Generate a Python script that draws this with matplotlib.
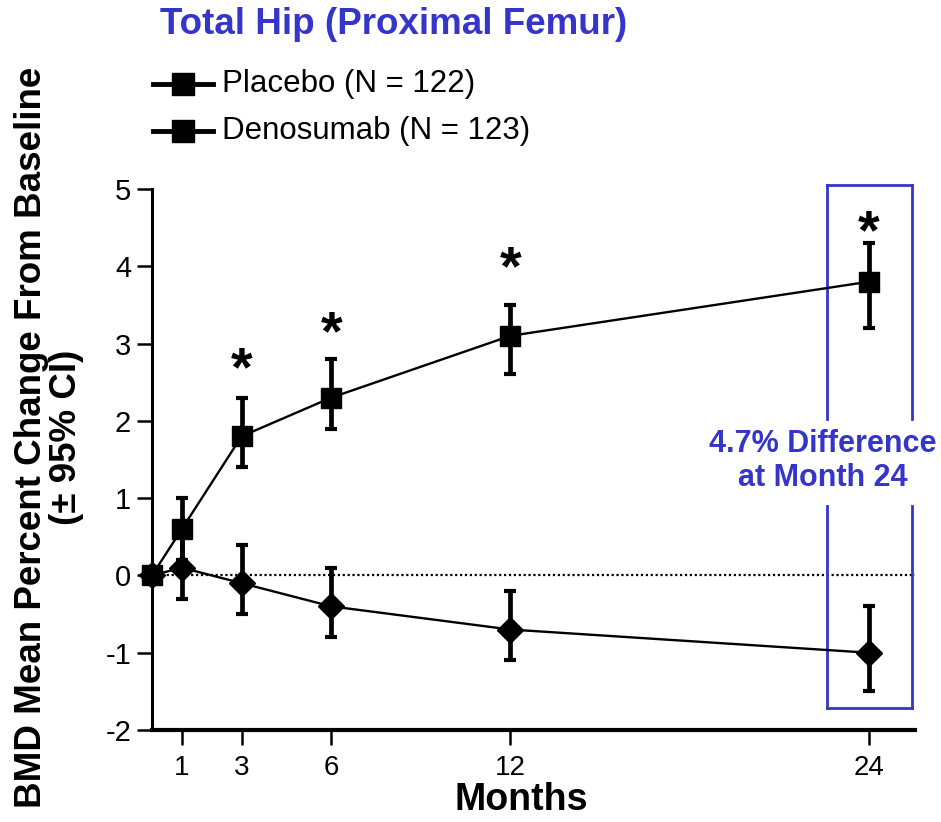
import matplotlib
matplotlib.use("Agg")
import matplotlib.pyplot as plt
import numpy as np

months = [0, 1, 3, 6, 12, 24]
deno_mean = [0.0, 0.6, 1.8, 2.3, 3.1, 3.8]
deno_lo = [0.0, 0.2, 1.4, 1.9, 2.6, 3.2]
deno_hi = [0.0, 1.0, 2.3, 2.8, 3.5, 4.3]
plac_mean = [0.0, 0.1, -0.1, -0.4, -0.7, -1.0]
plac_lo = [0.0, -0.3, -0.5, -0.8, -1.1, -1.5]
plac_hi = [0.0, 0.5, 0.4, 0.1, -0.2, -0.4]
star_months = [3, 6, 12, 24]
star_y = [2.8, 3.27, 4.11, 4.58]
xticks = [1, 3, 6, 12, 24]
yticks = [-2, -1, 0, 1, 2, 3, 4, 5]

BLUE = "#3535cc"
SANS = ["Liberation Sans", "DejaVu Sans"]

fig = plt.figure(figsize=(9.41, 8.22), dpi=100)
ax = fig.add_axes([152/941, 1-730/822, (915-152)/941, (730-189)/822])
ax.set_xlim(0, 25.55)
ax.set_ylim(-2, 5)

ax.plot([0, 25.55], [0, 0], ls=(0, (1, 1.2)), color="black", lw=1.6, zorder=1)

def draw(mean, lo, hi, marker, ms):
    m = np.array(mean); l = np.array(lo); h = np.array(hi)
    ax.errorbar(months[1:], m[1:], yerr=[m[1:]-l[1:], h[1:]-m[1:]], fmt="none",
                ecolor="black", elinewidth=3.4, capsize=4, capthick=3, zorder=3)
    ax.plot(months, m, color="black", lw=1.7, marker=marker, ms=ms,
            mfc="black", mec="black", clip_on=False, zorder=4)

draw(plac_mean, plac_lo, plac_hi, "D", 13)
draw(deno_mean, deno_lo, deno_hi, "s", 15)

for mo, sy in zip(star_months, star_y):
    ax.text(mo, sy - 0.5, "*", ha="center", va="bottom",
            fontsize=40, fontweight="bold", family=SANS)

x0, x1 = 22.6, 25.45
ytop, ybot = 5.05, -1.72
ygap_hi, ygap_lo = 2.03, 0.9
kw = dict(color=BLUE, lw=2, clip_on=False, zorder=2)
ax.plot([x0, x1], [ytop, ytop], **kw)
ax.plot([x0, x1], [ybot, ybot], **kw)
for xx in (x0, x1):
    ax.plot([xx, xx], [ytop, ygap_hi], **kw)
    ax.plot([xx, xx], [ygap_lo, ybot], **kw)
ax.text(22.45, 1.48, "4.7% Difference\nat Month 24", ha="center", va="center",
        color=BLUE, fontsize=22, fontweight="bold", family=SANS,
        linespacing=1.15, clip_on=False)

for s in ("top", "right"):
    ax.spines[s].set_visible(False)
ax.spines["left"].set_linewidth(2.2)
ax.spines["bottom"].set_linewidth(3)
ax.set_yticks(yticks)
ax.set_yticklabels([str(v) for v in yticks], family=SANS, fontsize=21)
ax.set_xticks(xticks)
ax.set_xticklabels([str(v) for v in xticks], fontsize=20, family=SANS)
ax.tick_params(axis="y", direction="out", length=11, width=1.8, pad=4)
ax.tick_params(axis="x", direction="out", length=11, width=1.8, pad=7)

fig.text(521/941, 1-800/822, "Months", fontsize=27, fontweight="bold",
         family=SANS, ha="center", va="center")

fig.text(49/941, 1-437/822, "BMD Mean Percent Change From Baseline\n(± 95% CI)",
         rotation=90, ha="center", va="center", multialignment="center",
         fontsize=26.5, fontweight="bold", family=SANS, linespacing=1.0)

fig.text(160/941, 1-25/822, "Total Hip (Proximal Femur)", color=BLUE,
         fontsize=26.5, fontweight="bold", family=SANS, va="center", ha="left")

for ypx, lab in ((84, "Placebo (N = 122)"), (131, "Denosumab (N = 123)")):
    yf = 1 - ypx/822
    fig.add_artist(plt.Line2D([153/941, 183/941, 213/941], [yf, yf, yf], color="black",
                              lw=3.5, marker="s", ms=16, markevery=[1],
                              transform=fig.transFigure))
    fig.text(222/941, yf, lab, fontsize=22.5, family=SANS, va="center", ha="left")

fig.savefig("out.png", dpi=100)
